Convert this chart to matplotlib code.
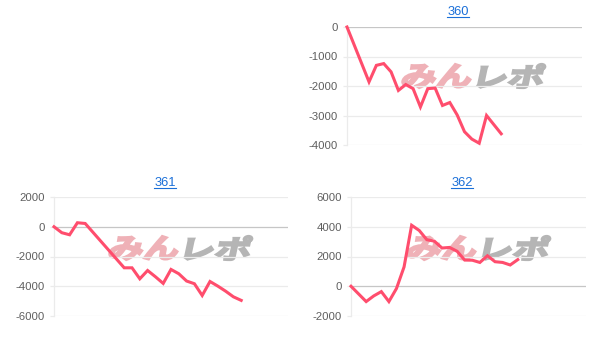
import matplotlib
matplotlib.use('Agg')
import matplotlib.pyplot as plt
from matplotlib.textpath import TextPath
from matplotlib.patches import PathPatch
from matplotlib.font_manager import FontProperties
from matplotlib.transforms import Affine2D
from matplotlib.lines import Line2D

# chart data (day index -> balance)
days_360 = [0, 3, 4, 5, 6, 7, 8, 9, 10, 11, 12, 13, 14, 15, 16, 17, 18, 19, 20, 21]
vals_360 = [0, -1860, -1300, -1240, -1520, -2150, -1950, -2090, -2710, -2090,
            -2070, -2660, -2560, -2980, -3550, -3800, -3940, -3000, -3310, -3620]

days_361 = [0, 1, 2, 3, 4, 9, 10, 11, 12, 13, 14, 15, 16, 17, 18, 19, 20, 21, 22, 23, 24]
vals_361 = [0, -400, -540, 270, 220, -2760, -2760, -3500, -2940, -3360, -3810,
            -2870, -3160, -3650, -3830, -4620, -3680, -3990, -4330, -4710, -4950]

days_362 = [0, 2, 3, 4, 5, 6, 7, 8, 9, 10, 11, 12, 13, 14, 15, 16, 17, 18, 19, 20, 21, 22]
vals_362 = [0, -1030, -650, -360, -1030, -150, 1300, 4100, 3750, 3130, 3030, 2570,
            2610, 2350, 1760, 1750, 1600, 2050, 1650, 1600, 1430, 1790]

plt.rcParams['font.family'] = ['Liberation Sans', 'DejaVu Sans']

W, H = 613, 348
fig = plt.figure(figsize=(W / 100, H / 100), dpi=100)
fig.patch.set_facecolor('white')

LINE = '#ff4d6d'
GRID = '#ebebeb'
ZERO = '#c6c6c6'
TICK = '#5f5f5f'
LINK = '#1a6fd8'

jp = FontProperties(family='Noto Sans CJK JP', weight='bold')


def px_axes(left, right, top, bottom):
    return fig.add_axes([left / W, (H - bottom) / H, (right - left) / W, (bottom - top) / H])


def watermark(x0, x1, ytop, ybot, text, color):
    # logo-like text, skewed and stretched into the box
    tp = TextPath((0, 0), text, size=50, prop=jp)
    ext = tp.get_extents()
    h = ybot - ytop
    skew = 0.22 * h
    sx = (x1 - x0 - skew) / ext.width
    sy = h / ext.height
    tr = (Affine2D().translate(-ext.x0, -ext.y0).scale(sx, sy)
          .skew_deg(12, 0).translate(x0, H - ybot))
    p = PathPatch(tp, transform=tr, facecolor=color, edgecolor=color,
                  lw=1.6, joinstyle='miter', zorder=-1)
    fig.add_artist(p)


def panel(box, days, vals, ylim, step, xmax, title, tx, ty, wm):
    ax = px_axes(*box)
    ax.set_facecolor('none')
    ax.plot(days, vals, color=LINE, lw=2.2, solid_joinstyle='miter', clip_on=False, zorder=3)
    ax.set_xlim(0, xmax)
    ax.set_ylim(*ylim)
    ticks = list(range(ylim[0], ylim[1] + 1, step))
    ax.set_yticks(ticks)
    ax.set_yticklabels([str(t) for t in ticks])
    ax.set_xticks([])
    for t in ticks:
        ax.axhline(t, color=ZERO if t == 0 else GRID, lw=0.9, zorder=1)
    for s in ['top', 'right', 'bottom']:
        ax.spines[s].set_visible(False)
    ax.spines['left'].set_color(GRID)
    ax.spines['left'].set_linewidth(0.9)
    ax.tick_params(axis='y', length=3, width=0.9, color=GRID, pad=3.5,
                   labelsize=8.2, labelcolor=TICK)

    t = fig.text(tx / W, (H - ty) / H, title, color=LINK, fontsize=9.3,
                 ha='center', va='baseline')
    fig.canvas.draw()
    bb = t.get_window_extent()
    fig.add_artist(Line2D([bb.x0 / W, bb.x1 / W], [(H - ty - 1.8) / H] * 2,
                          transform=fig.transFigure, color=LINK, lw=0.8))

    wx, wy = wm
    watermark(wx, wx + 73, wy - 12, wy + 12, 'みん', '#efb1b7')
    watermark(wx + 76, wx + 145, wy - 12, wy + 12, 'レポ', '#b5b5b5')
    return ax


panel((347, 582, 27, 145), days_360, vals_360, (-4000, 0), 1000, 32,
      '360', 458, 15, (401, 76))
panel((54, 288, 197, 316), days_361, vals_361, (-6000, 2000), 2000, 30,
      '361', 165, 186, (108, 248))
panel((351, 586, 197, 316), days_362, vals_362, (-2000, 6000), 2000, 31,
      '362', 462, 186, (406, 248))

fig.savefig('out.png', dpi=100, facecolor='white')
